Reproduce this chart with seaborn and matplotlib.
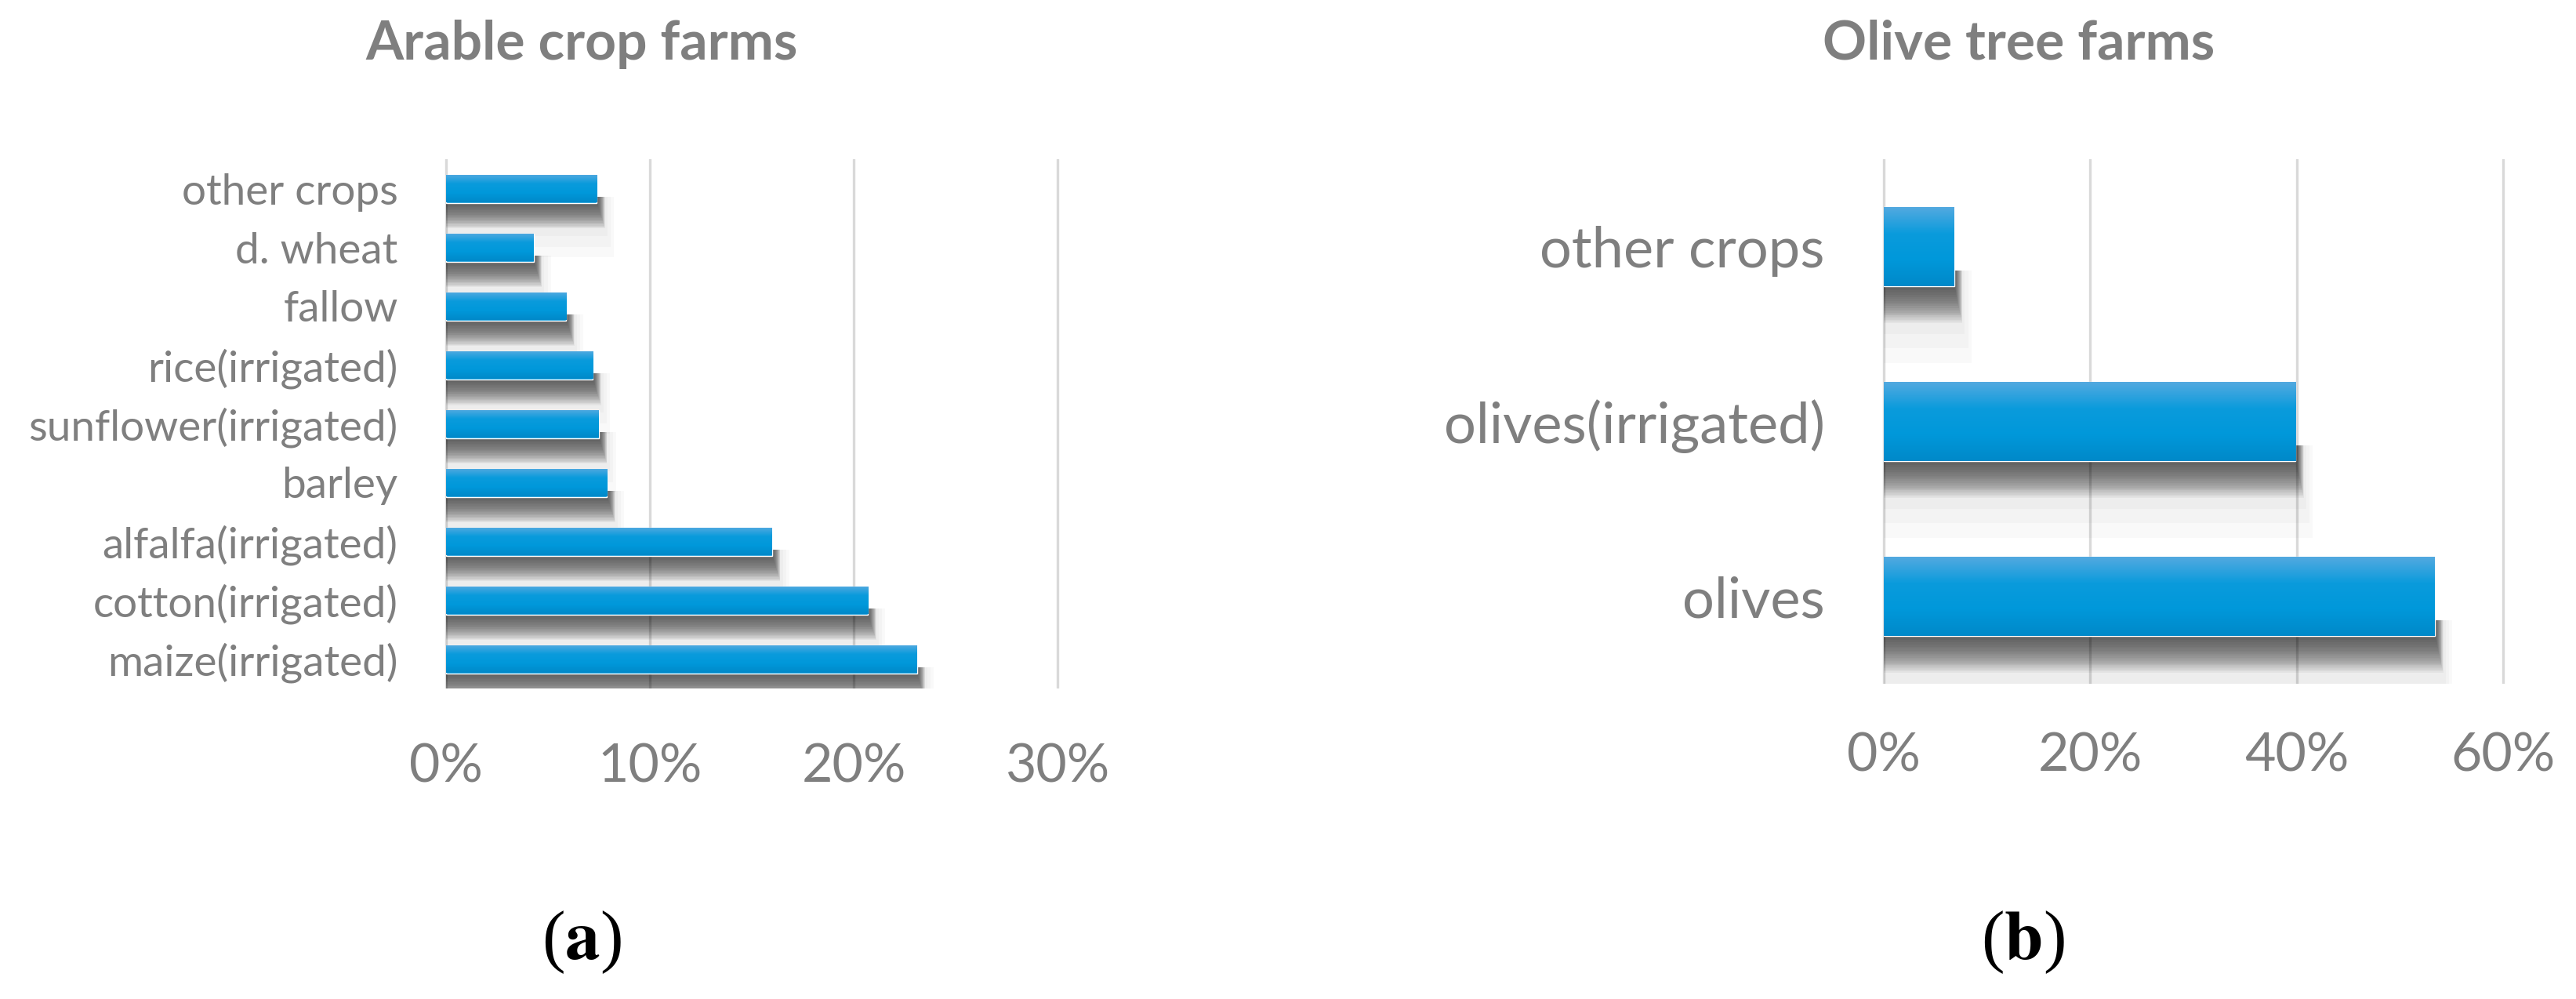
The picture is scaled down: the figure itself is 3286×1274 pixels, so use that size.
import numpy as np
import pandas as pd
import seaborn as sns
import matplotlib
matplotlib.use("Agg")
import matplotlib.pyplot as plt
from matplotlib.patches import Rectangle
from matplotlib.colors import LinearSegmentedColormap
from matplotlib.ticker import PercentFormatter

# data (top to bottom as drawn)
arable_crops = ["other crops", "d. wheat", "fallow", "rice(irrigated)",
                "sunflower(irrigated)", "barley", "alfalfa(irrigated)",
                "cotton(irrigated)", "maize(irrigated)"]
arable_share = [0.074, 0.043, 0.059, 0.072, 0.075, 0.079, 0.160, 0.207, 0.231]
arable_ticks = [0.0, 0.1, 0.2, 0.3]

olive_crops = ["other crops", "olives(irrigated)", "olives"]
olive_share = [0.068, 0.399, 0.534]
olive_ticks = [0.0, 0.2, 0.4, 0.6]

GREY = "#7f7f7f"
GRID = "#d9d9d9"
BLUE = "#0a98d9"
bar_cmap = LinearSegmentedColormap.from_list(
    "xlbar", ["#52a9e0", "#0a9bdc", "#0098da", "#0089c9"])

sns.set_theme(style="white")
plt.rcParams["font.family"] = ["Lato", "DejaVu Sans"]

fig = plt.figure(figsize=(32.87, 12.74), dpi=100)
W, H = 3287, 1274


def px_axes(x0, x1, ytop, ybot):
    return fig.add_axes([x0 / W, 1 - ybot / H, (x1 - x0) / W, (ybot - ytop) / H])


def style_bars(ax, xmax, ticks, label_size, xpad, ypad, sh_len, sh_ext):
    n = 20
    for p in ax.patches[:]:
        x0, y0 = p.get_x(), p.get_y()
        w, h = p.get_width(), p.get_height()
        # soft shadow under the bar: stacked faint rectangles (y axis inverted)
        for k in range(n):
            f = ((k + 1) / n) ** 0.75
            ax.add_patch(Rectangle((x0, y0 + h * 0.8),
                                   w + sh_ext * f, h * 0.2 + sh_len * f,
                                   facecolor="black", alpha=0.04, linewidth=0,
                                   zorder=0.9))
        for k in range(3):
            f = 1.3 + 0.4 * k
            ax.add_patch(Rectangle((x0, y0 + h * 0.8), w + sh_ext * f, h * 0.2 + sh_len * f,
                                   facecolor="black", alpha=0.022, linewidth=0, zorder=0.9))
        grad = np.linspace(0, 1, 64).reshape(-1, 1)
        im = ax.imshow(grad, extent=(x0, x0 + w, y0, y0 + h), origin="lower",
                       aspect="auto", cmap=bar_cmap, zorder=p.get_zorder() + 0.1)
        im.set_clip_path(p)
    ax.set_xlim(-xmax * 0.004, xmax * 1.004)
    ax.set_ylim(len(ax.get_yticks()) - 0.5, -0.5)
    ax.set_xticks(ticks)
    ax.xaxis.set_major_formatter(PercentFormatter(1.0, decimals=0))
    ax.xaxis.grid(True, color=GRID, linewidth=2.4)
    ax.yaxis.grid(False)
    ax.set_axisbelow(True)
    for s in ax.spines.values():
        s.set_visible(False)
    ax.tick_params(axis="x", length=0, labelsize=49, labelcolor=GREY, pad=xpad)
    ax.tick_params(axis="y", length=0, labelsize=label_size, labelcolor=GREY, pad=ypad)
    ax.set_xlabel("")
    ax.set_ylabel("")


# (a) arable crop farms
ax1 = px_axes(566, 1352, 203, 878)
df1 = pd.DataFrame({"crop": arable_crops, "share": arable_share})
sns.barplot(data=df1, x="share", y="crop", orient="h", color=BLUE, width=0.48,
            saturation=1, ax=ax1)
style_bars(ax1, 0.30, arable_ticks, 39.5, 50, 42, 0.44, 0.004)

# (b) olive tree farms
ax2 = px_axes(2400, 3196, 203, 872)
df2 = pd.DataFrame({"crop": olive_crops, "share": olive_share})
sns.barplot(data=df2, x="share", y="crop", orient="h", color=BLUE, width=0.45,
            saturation=1, ax=ax2)
style_bars(ax2, 0.60, olive_ticks, 52, 44, 52, 0.21, 0.008)

fig.text(742 / W, 1 - 56 / H, "Arable crop farms", ha="center", va="center",
         fontsize=50, fontweight="bold", color=GREY)
fig.text(2575 / W, 1 - 56 / H, "Olive tree farms", ha="center", va="center",
         fontsize=50, fontweight="bold", color=GREY)

for xc, letter in [(742, "a"), (2580, "b")]:
    fig.text(xc / W, 1 - 1202 / H, "(" + r"$\mathbf{" + letter + "}$" + ")",
             ha="center", va="center", fontsize=64, color="black",
             family="Liberation Serif", math_fontfamily="stix")

fig.savefig("out.png", dpi=100, facecolor="white")
